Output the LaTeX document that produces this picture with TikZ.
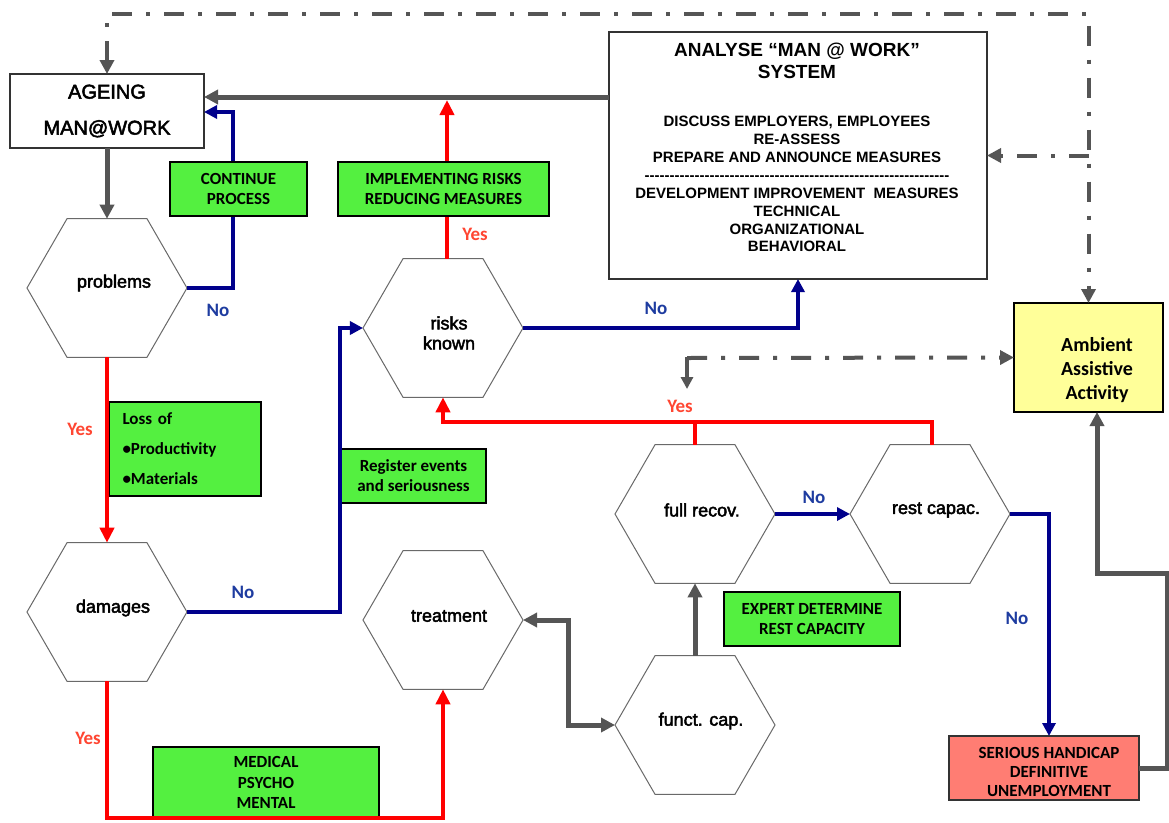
\documentclass[tikz,border=0pt]{standalone}
\usepackage{fontspec}
\setmainfont{Liberation Sans}
\newfontfamily\carl{Carlito}
\newfontfamily\medsans[FakeBold=2.5]{Liberation Sans}
\usetikzlibrary{arrows.meta,shapes.geometric,calc}
\definecolor{lgray}{RGB}{85,85,85}
\definecolor{navy}{RGB}{0,0,140}
\definecolor{nolbl}{RGB}{30,60,160}
\definecolor{yeslbl}{RGB}{255,70,50}
\definecolor{gfill}{RGB}{84,240,64}
\definecolor{yfill}{RGB}{255,255,153}
\definecolor{sfill}{RGB}{255,125,115}
\definecolor{hexline}{RGB}{105,105,105}
\newcommand\hyrow{\foreach\hi in {1,...,61}{-\kern0pt}}
\tikzset{
  gtip/.tip={Triangle[length=14pt,width=14pt]},
  btip/.tip={Triangle[length=13pt,width=13pt]},
  rtip/.tip={Triangle[length=15pt,width=14pt]},
  stip/.tip={Triangle[length=12pt,width=12pt]},
  garrow/.style={color=lgray, line width=5pt, -gtip},
  barrow/.style={color=navy, line width=4pt, -btip},
  rarrow/.style={color=red, line width=4pt, -rtip},
  rline/.style={color=red, line width=4pt},
  ddash/.style={color=lgray, line width=4pt, dash pattern=on 20pt off 14pt on 4pt off 14pt},
  hexa/.style={regular polygon, regular polygon sides=6, minimum size=160pt, inner sep=0pt, outer sep=0pt, draw=hexline, line width=1pt, fill=white},
  hexlbl/.style={font=\medsans\fontsize{18}{20}\selectfont, align=center, inner sep=0pt},
  plainbox/.style={draw=black!80, line width=1.5pt, fill=white, inner sep=0pt, outer sep=0pt, align=center},
  gbox/.style={draw=black, line width=1.5pt, fill=gfill, inner sep=0pt, outer sep=0pt, align=center, font=\carl\bfseries\fontsize{17}{20}\selectfont},
  yeslab/.style={text=yeslbl, font=\carl\bfseries\fontsize{19}{22}\selectfont, inner sep=0pt},
  nolab/.style={text=nolbl, font=\carl\bfseries\fontsize{19}{22}\selectfont, inner sep=0pt},
}
\begin{document}
\begin{tikzpicture}[x=1pt,y=-1pt]
\useasboundingbox (0,0) rectangle (1169,822);
\fill[white] (0,0) rectangle (1169,822);
% helper coordinates
\coordinate (topline) at (600,14);
\coordinate (l97) at (0,97);
\coordinate (l100) at (0,100);
\coordinate (l422) at (0,422);
\coordinate (l818) at (0,818);
\coordinate (pb) at (233,112);
\coordinate (db) at (340,0);
\coordinate (tf) at (568,0);
\coordinate (sr) at (1167,573);
\coordinate (yj) at (687,358);
\coordinate (yjEnd) at (687,389);

% main boxes
\node[plainbox, minimum width=194pt, minimum height=74pt, font=\medsans\fontsize{20}{36}\selectfont] (ageing) at (107,111) {AGEING\\MAN@WORK};
\node[plainbox, minimum width=378pt, minimum height=247pt] (analyse) at (798,155.5) {};
\node[font=\bfseries\fontsize{19}{22}\selectfont, align=center, inner sep=0pt] (antitle) at (797,61) {ANALYSE “MAN @ WORK”\\SYSTEM};
\node[font=\bfseries\fontsize{15}{17.86}\selectfont, align=center, inner sep=0pt] (anbody) at (797,184.2) {DISCUSS EMPLOYERS, EMPLOYEES\\RE-ASSESS\\PREPARE AND ANNOUNCE MEASURES\\\hyrow\\DEVELOPMENT IMPROVEMENT\ \ MEASURES\\TECHNICAL\\ORGANIZATIONAL\\BEHAVIORAL};
\node[draw=black, line width=1.5pt, fill=yfill, inner sep=0pt, outer sep=0pt, minimum width=149pt, minimum height=109pt] (ambient) at (1088.5,357.5) {};
\node[font=\carl\bfseries\fontsize{20}{24}\selectfont, align=center, inner sep=0pt] (amtext) at (1097,370) {Ambient\\Assistive\\Activity};
\node[draw=black!80, line width=1.5pt, fill=sfill, inner sep=0pt, outer sep=0pt, minimum width=190pt, minimum height=64pt] (serious) at (1044,768) {};
\node[font=\carl\bfseries\fontsize{17}{19}\selectfont, align=center, inner sep=0pt] (setext) at (1049,772) {SERIOUS HANDICAP\\DEFINITIVE\\UNEMPLOYMENT};

% hexagons
\node[hexa] (problems) at (107,288) {};
\node[hexlbl] at (114,283) {problems};
\node[hexa] (damages) at (107,612) {};
\node[hexlbl] at (113,608) {damages};
\node[hexa] (risks) at (443,328) {};
\node[hexlbl] at (449,333) {risks\\known};
\node[hexa] (treatment) at (443,620) {};
\node[hexlbl] at (449,616) {treatment};
\node[hexa] (fullrec) at (695,514) {};
\node[hexlbl] at (702,510) {full recov.};
\node[hexa] (restcap) at (930,514) {};
\node[hexlbl] at (936,510) {rest capac.};
\node[hexa] (functcap) at (695,725) {};
\node[hexlbl] at (701,721) {funct. cap.};

% green boxes under lines
\node[gbox, minimum width=152pt, minimum height=94pt, text width=125pt, inner xsep=13.5pt, align=left, font=\carl\bfseries\fontsize{17}{30}\selectfont] (loss) at (185,449) {Loss of\\•Productivity\\•Materials};
\node[gbox, minimum width=145pt, minimum height=54pt] (register) at (413.5,476) {Register events\\and seriousness};
\node[gbox, minimum width=226pt, minimum height=71pt, font=\carl\bfseries\fontsize{17}{20.5}\selectfont] (medical) at (266,782.5) {MEDICAL\\PSYCHO\\MENTAL};
\node[gbox, minimum width=176pt, minimum height=54pt] (expert) at (812,619) {EXPERT DETERMINE\\REST CAPACITY};

% dash-dot connectors
\draw[ddash, gtip-gtip] (ageing.north) |- (topline -| ambient.north) -- (ambient.north);
\draw[ddash, -gtip] (analyse.east -| ambient.north) -- (analyse.east);
\draw[ddash, -gtip] (yj) -- (ambient.west);
\draw[color=lgray, line width=4pt, -stip] ([yshift=1pt]yj) -- (yjEnd);

% gray solid connectors
\draw[garrow] (ageing.south) -- (problems.north);
\draw[garrow] (analyse.west |- l97) -- (ageing.east |- l97);
\draw[garrow] (functcap.north) -- (fullrec.south);
\draw[garrow, gtip-gtip] (treatment.east) -- (treatment.east -| tf) |- (functcap.west);
\draw[garrow] (serious.east) -| (sr) -| ([xshift=8.5pt]ambient.south);

% blue connectors
\draw[barrow] (problems.east) -| (pb) -- (ageing.east |- pb);
\draw[barrow] (damages.east) -| (db |- risks.west) -- (risks.west);
\draw[barrow] (risks.east) -| (analyse.south);
\draw[barrow] (fullrec.east) -- (restcap.west);
\draw[barrow] (restcap.east) -| ([xshift=5pt]serious.north);

% red connectors
\draw[rarrow] (problems.south) -- (damages.north);
\draw[rarrow] ([xshift=4pt]risks.north) -- ([xshift=4pt]risks.north |- l100);
\draw[rarrow] ([xshift=2pt]restcap.north) |- (risks.south |- l422) -- (risks.south);
\draw[rline] (fullrec.north) -- (fullrec.north |- l422);
\draw[rarrow] (damages.south) |- (treatment.south |- l818) -- (treatment.south);

% green boxes over lines
\node[gbox, minimum width=137pt, minimum height=54pt] (cont) at (238.5,189) {CONTINUE\\PROCESS};
\node[gbox, minimum width=211pt, minimum height=54pt] (impl) at (443.5,189) {IMPLEMENTING RISKS\\REDUCING MEASURES};

% yes / no labels
\node[nolab] at (218,310) {No};
\node[yeslab] at (80,429) {Yes};
\node[yeslab] at (475,234) {Yes};
\node[nolab] at (656,308) {No};
\node[yeslab] at (88,738) {Yes};
\node[nolab] at (243,592) {No};
\node[yeslab] at (680,406) {Yes};
\node[nolab] at (814,497) {No};
\node[nolab] at (1017,618) {No};
\end{tikzpicture}
\end{document}
